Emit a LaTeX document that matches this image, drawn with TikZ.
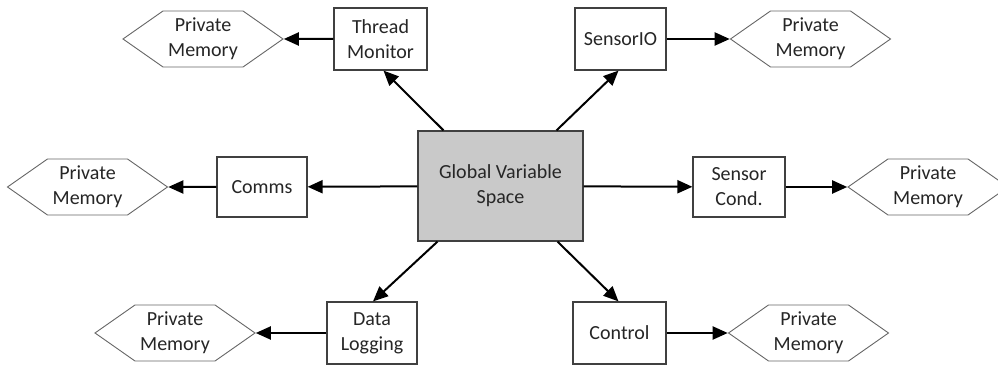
\documentclass[tikz,border=0pt]{standalone}
\usepackage{fontspec}
\setmainfont{Carlito}
\usepackage{tikz}
\usetikzlibrary{arrows.meta,shapes.symbols}

\tikzset{
  box/.style={draw=black!75, line width=1.2pt, fill=white, text=black!85, align=center,
    inner sep=0pt, font=\fontsize{20}{25}\selectfont},
  mem/.style={signal, signal to=west and east, signal pointer angle=70, draw=black!60,
    line width=0.9pt, fill=white, text=black!85, align=center, inner sep=0pt,
    minimum width=160pt, minimum height=56pt, font=\fontsize{20}{25}\selectfont},
  arr/.style={line width=2pt, -{Triangle[length=15pt,width=13pt]}}
}

\begin{document}
\begin{tikzpicture}[x=1pt,y=1pt]
    \useasboundingbox (0,0) rectangle (998,366);

    \node[box, fill=black!21, minimum width=165pt, minimum height=110pt] (gvs) at (500.5,180) {Global Variable\\Space};

    \node[box, minimum width=93pt, minimum height=62pt] (tm) at (380.5,327) {Thread\\Monitor};
    \node[box, minimum width=91pt, minimum height=62pt] (sio) at (620.5,327) {SensorIO};
    \node[box, minimum width=90pt, minimum height=60pt] (comms) at (262,179) {Comms};
    \node[box, minimum width=92pt, minimum height=60pt] (sc) at (739,179) {Sensor\\Cond.};
    \node[box, minimum width=90pt, minimum height=62pt] (dl) at (372,33) {Data\\Logging};
    \node[box, minimum width=93pt, minimum height=62pt] (ctrl) at (619.5,33) {Control};

    \node[mem] (tmmem) at (203,327) {Private\\Memory};
    \node[mem] (siomem) at (810.5,327) {Private\\Memory};
    \node[mem] (commsmem) at (87.5,179) {Private\\Memory};
    \node[mem] (scmem) at (928,179) {Private\\Memory};
    \node[mem] (dlmem) at (175,33) {Private\\Memory};
    \node[mem] (ctrlmem) at (808.5,33) {Private\\Memory};

    % from the global space
    \draw[arr] ([xshift=-57pt]gvs.north) -- ([xshift=3pt]tm.south);
    \draw[arr] ([xshift=56pt]gvs.north) -- ([xshift=-2pt]sio.south);
    \draw[arr] (gvs) -- (comms);
    \draw[arr] (gvs) -- (sc);
    \draw[arr] ([xshift=-63pt]gvs.south) -- ([xshift=1pt]dl.north);
    \draw[arr] ([xshift=57pt]gvs.south) -- ([xshift=-1pt]ctrl.north);

    % to the private memories
    \draw[arr] (tm) -- (tmmem);
    \draw[arr] (sio) -- (siomem);
    \draw[arr] (comms) -- (commsmem);
    \draw[arr] (sc) -- (scmem);
    \draw[arr] (dl) -- (dlmem);
    \draw[arr] (ctrl) -- (ctrlmem);
\end{tikzpicture}
\end{document}
